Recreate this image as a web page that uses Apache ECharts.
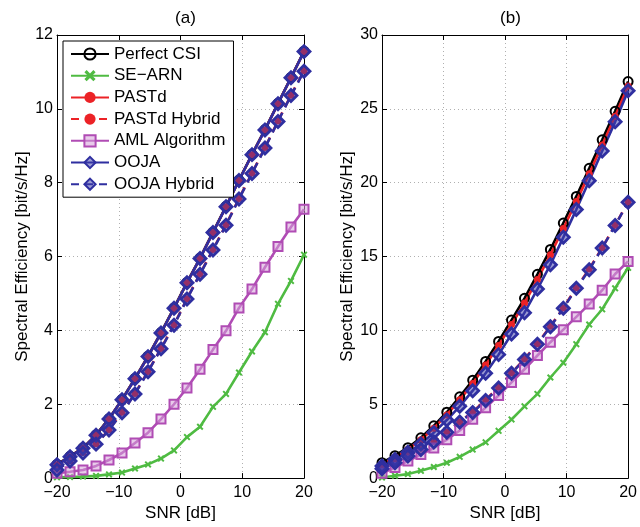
<!DOCTYPE html>
<html>
<head>
<meta charset="utf-8">
<script src="https://cdn.jsdelivr.net/npm/echarts@6/dist/echarts.min.js"></script>
<style>
html,body{margin:0;padding:0;background:#fff;}
#chart{width:640px;height:527px;}
</style>
</head>
<body>
<div id="chart"></div>
<script>
// SNR sample points [dB]
const snr = [-20,-17.89,-15.79,-13.68,-11.58,-9.47,-7.37,-5.26,-3.16,-1.05,1.05,3.16,5.26,7.37,9.47,11.58,13.68,15.79,17.89,20];
const seriesNames = ['Perfect CSI','SE\u2212ARN','PASTd','PASTd Hybrid','AML Algorithm','OOJA','OOJA Hybrid'];
const xTicks = [-20,-10,0,10,20];
const yTicksA = [0,2,4,6,8,10,12];
const yTicksB = [0,5,10,15,20,25,30];

// (a)
const perfectA = [0.37,0.59,0.82,1.17,1.61,2.13,2.70,3.30,3.94,4.61,5.30,5.96,6.66,7.36,8.07,8.77,9.44,10.15,10.85,11.56];
const searnA   = [0.02,0.03,0.04,0.06,0.10,0.15,0.26,0.37,0.53,0.75,1.11,1.39,1.93,2.28,2.86,3.43,3.95,4.72,5.34,6.05];
const pastdA   = [0.36,0.58,0.81,1.16,1.60,2.12,2.69,3.29,3.93,4.60,5.29,5.95,6.65,7.35,8.06,8.76,9.43,10.14,10.84,11.55];
const pastdHA  = [0.23,0.47,0.69,0.93,1.31,1.78,2.29,2.89,3.51,4.15,4.86,5.53,6.19,6.86,7.57,8.26,8.95,9.67,10.37,11.03];
const amlA     = [0.13,0.17,0.22,0.33,0.49,0.68,0.95,1.23,1.60,2.00,2.44,2.95,3.48,3.99,4.61,5.12,5.71,6.27,6.80,7.28];
const oojaA    = [0.36,0.58,0.81,1.16,1.60,2.12,2.69,3.29,3.93,4.60,5.29,5.95,6.65,7.35,8.06,8.76,9.43,10.14,10.84,11.55];
const oojaHA   = [0.22,0.46,0.68,0.92,1.30,1.77,2.28,2.88,3.50,4.14,4.85,5.52,6.18,6.85,7.56,8.25,8.94,9.66,10.36,11.02];

// (b)
const perfectB = [1.04,1.52,2.06,2.73,3.54,4.46,5.50,6.63,7.90,9.25,10.70,12.17,13.80,15.48,17.27,19.07,20.97,22.90,24.83,26.85];
const searnB   = [0.04,0.16,0.27,0.49,0.75,1.04,1.44,1.93,2.42,3.20,3.97,4.86,5.70,6.81,7.81,9.07,10.40,11.43,12.85,14.24];
const pastdB   = [0.95,1.42,1.95,2.60,3.38,4.28,5.30,6.40,7.65,8.98,10.40,11.85,13.45,15.12,16.90,18.72,20.60,22.55,24.50,26.55];
const pastdHB  = [0.66,1.06,1.50,1.95,2.48,3.12,3.82,4.47,5.30,6.15,7.12,8.06,9.10,10.28,11.52,12.88,14.15,15.60,17.12,18.70];
const amlB     = [0.33,0.71,1.15,1.60,2.04,2.60,3.22,3.99,4.77,5.59,6.48,7.37,8.30,9.20,10.05,10.92,11.78,12.72,13.82,14.67];
const oojaB    = [0.82,1.26,1.75,2.31,3.08,3.93,4.86,5.92,7.10,8.36,9.76,11.20,12.80,14.45,16.30,18.18,20.13,22.15,24.12,26.23];
const oojaHB   = [0.64,1.04,1.49,1.93,2.45,3.10,3.80,4.44,5.26,6.10,7.10,8.03,9.07,10.25,11.50,12.85,14.10,15.58,17.10,18.68];

const FONT = "'Liberation Sans', Arial, Helvetica, sans-serif";
const xMark = 'path://M2,0 L5,3 L8,0 L10,2 L7,5 L10,8 L8,10 L5,7 L2,10 L0,8 L3,5 L0,2 Z';

const styles = [
  {color:'#000000', fill:'rgba(255,255,255,0)', symbol:'circle', size:9, dash:'solid', bw:2},
  {color:'#4fbb42', fill:'#4fbb42', symbol:xMark, size:7, dash:'solid', bw:0},
  {color:'#ec2226', fill:'#ec2226', symbol:'circle', size:7, dash:'solid', bw:0},
  {color:'#ec2226', fill:'#ec2226', symbol:'circle', size:7, dash:[8,6], bw:0},
  {color:'#b04cb4', fill:'rgba(214,160,216,0.55)', symbol:'rect', size:9, dash:'solid', bw:2},
  {color:'#2f2fa0', fill:'rgba(60,60,170,0.5)', symbol:'diamond', size:12, dash:'solid', bw:2.8},
  {color:'#2f2fa0', fill:'rgba(60,60,170,0.5)', symbol:'diamond', size:12, dash:[8,6], bw:2.8}
];

const dataA = [perfectA, searnA, pastdA, pastdHA, amlA, oojaA, oojaHA];
const dataB = [perfectB, searnB, pastdB, pastdHB, amlB, oojaB, oojaHB];

function pairs(vals){ return snr.map((x,i)=>[x, vals[i]]); }

function mkSeries(idx, vals, gi){
  const s = styles[idx];
  return {
    name: seriesNames[idx], type:'line', xAxisIndex:gi, yAxisIndex:gi,
    data: pairs(vals), symbol:s.symbol, symbolSize:s.size, showSymbol:true,
    lineStyle:{color:s.color, width:2.6, type:Array.isArray(s.dash) ? s.dash.slice() : s.dash},
    itemStyle:{color:s.fill, borderColor:s.color, borderWidth:s.bw},
    emphasis:{disabled:true}, animation:false
  };
}

const series = [];
for (let i=0;i<7;i++) series.push(mkSeries(i, dataA[i], 0));
for (let i=0;i<7;i++) series.push(mkSeries(i, dataB[i], 1));

const minusFmt = v => String(v).replace('-', '\u2212');
const axisLabelStyle = {color:'#000', fontSize:16, fontFamily:FONT};

function mainX(gi){
  return {type:'value', gridIndex:gi, min:xTicks[0], max:xTicks[xTicks.length-1], interval:10,
    name:'SNR [dB]', nameLocation:'middle', nameGap:22,
    nameTextStyle:{color:'#000', fontSize:17, fontFamily:FONT},
    axisLine:{show:true, onZero:false, lineStyle:{color:'#000', width:1}},
    axisTick:{show:true, inside:true, length:5, lineStyle:{color:'#000'}},
    axisLabel:Object.assign({margin:6, formatter:minusFmt}, axisLabelStyle),
    splitLine:{show:true, lineStyle:{color:'#b0b0b0', type:[1,3], width:1}}};
}
function mirrorX(gi){
  return {type:'value', gridIndex:gi, position:'top', min:-20, max:20, interval:10,
    axisLine:{show:true, onZero:false, lineStyle:{color:'#000', width:1}},
    axisTick:{show:true, inside:true, length:5, lineStyle:{color:'#000'}},
    axisLabel:{show:false}, splitLine:{show:false}};
}
function mainY(gi, ticks, gap){
  return {type:'value', gridIndex:gi, min:ticks[0], max:ticks[ticks.length-1], interval:ticks[1]-ticks[0],
    name:'Spectral Efficiency [bit/s/Hz]', nameLocation:'middle', nameGap:gap,
    nameTextStyle:{color:'#000', fontSize:17, fontFamily:FONT},
    axisLine:{show:true, onZero:false, lineStyle:{color:'#000', width:1}},
    axisTick:{show:true, inside:true, length:5, lineStyle:{color:'#000'}},
    axisLabel:Object.assign({margin:4}, axisLabelStyle),
    splitLine:{show:true, lineStyle:{color:'#b0b0b0', type:[1,3], width:1}}};
}
function mirrorY(gi, ticks){
  return {type:'value', gridIndex:gi, position:'right', min:ticks[0], max:ticks[ticks.length-1], interval:ticks[1]-ticks[0],
    axisLine:{show:true, onZero:false, lineStyle:{color:'#000', width:1}},
    axisTick:{show:true, inside:true, length:5, lineStyle:{color:'#000'}},
    axisLabel:{show:false}, splitLine:{show:false}};
}

const chart = echarts.init(document.getElementById('chart'), null, {renderer:'canvas'});
chart.setOption({
  backgroundColor:'#ffffff',
  animation:false,
  textStyle:{fontFamily:FONT},
  title:[
    {text:'(a)', left:180.5, top:5, textAlign:'center', textStyle:{fontSize:17, fontWeight:'normal', color:'#000', fontFamily:FONT}},
    {text:'(b)', left:505.5, top:5, textAlign:'center', textStyle:{fontSize:17, fontWeight:'normal', color:'#000', fontFamily:FONT}}
  ],
  grid:[
    {left:57, top:35, width:247, height:451, containLabel:false},
    {left:382, top:35, width:247, height:451, containLabel:false}
  ],
  xAxis:[mainX(0), mainX(1), mirrorX(0), mirrorX(1)],
  yAxis:[mainY(0, yTicksA, 26), mainY(1, yTicksB, 18), mirrorY(0, yTicksA), mirrorY(1, yTicksB)],
  legend:{
    data:seriesNames, orient:'vertical', left:63, top:41,
    backgroundColor:'#ffffff', borderColor:'#000', borderWidth:1,
    padding:[4,8,4,7], itemWidth:38, itemHeight:14, itemGap:3.7,
    textStyle:{fontSize:17, lineHeight:18, color:'#000', fontFamily:FONT},
    selectedMode:false
  },
  series: series
});
</script>
</body>
</html>
